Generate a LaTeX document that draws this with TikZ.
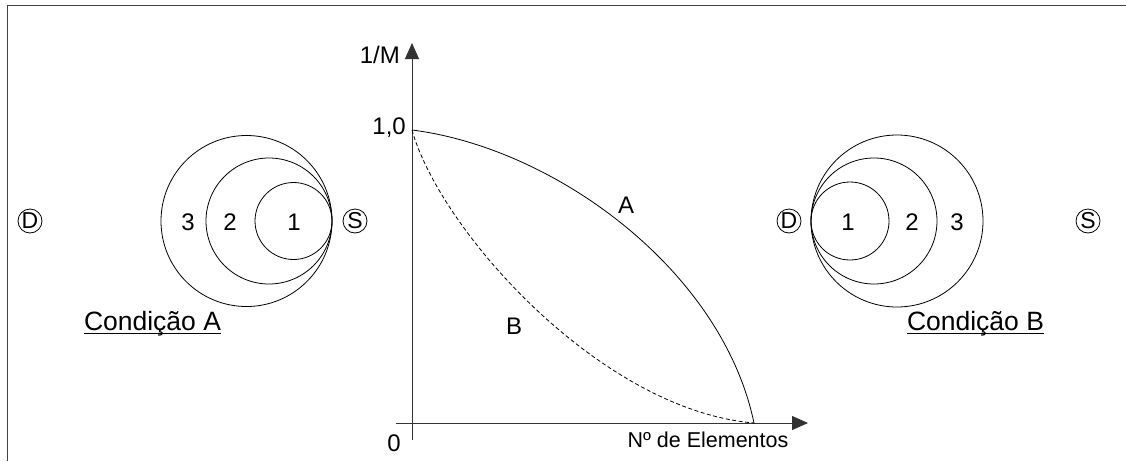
\documentclass[tikz,border=0pt]{standalone}
\usepackage{fontspec}
\setmainfont{Liberation Sans}
\usetikzlibrary{arrows.meta}
\begin{document}
\begin{tikzpicture}[x=1pt,y=-1pt,
  thinline/.style={line width=0.8pt,black},
  axisline/.style={line width=1pt,black!80,-{Triangle[length=16pt,width=14pt]}},
  lbl/.style={font=\fontsize{24}{26}\selectfont,inner sep=0pt},
  cond/.style={font=\fontsize{26.5}{28}\selectfont,inner sep=0pt,anchor=base},
  term/.style={circle,draw,line width=0.8pt,minimum size=24pt,inner sep=0pt,font=\fontsize{23}{24}\selectfont}]
\useasboundingbox (0,0) rectangle (1126,461);
% frame
\draw[line width=1pt,black!75] (1126,5) -- (7,5) -- (7,461);
% left condition A
\draw[thinline] (293.5,221) circle (38.5);
\draw[thinline] (269,221) circle (63);
\draw[thinline] (246.5,221) circle (85.5);
\node[lbl] (a1) at (294,222) {1};
\node[lbl] (a2) at (230,222) {2};
\node[lbl] (a3) at (188,222) {3};
\node[term] (dA) at (30,221) {D};
\node[term] (sA) at (355,221) {S};
\node[cond] (condA) at (152.5,330) {Condição A};
\draw[line width=0.9pt] ([yshift=-3.5pt]condA.base west) -- ([yshift=-3.5pt]condA.base east);
% right condition B
\draw[thinline] (850,221) circle (39);
\draw[thinline] (874,221) circle (63);
\draw[thinline] (897,221) circle (86);
\node[lbl] (b1) at (848,222) {1};
\node[lbl] (b2) at (912,222) {2};
\node[lbl] (b3) at (957,222) {3};
\node[term] (dB) at (789,221) {D};
\node[term] (sB) at (1088,221) {S};
\node[cond] (condB) at (975.5,330) {Condição B};
\draw[line width=0.9pt] ([yshift=-3.5pt]condB.base west) -- ([yshift=-3.5pt]condB.base east);
% axes
\coordinate (ybot) at (412,440);
\coordinate (ytop) at (412,43);
\coordinate (xleft) at (396,423);
\coordinate (xright) at (808,423);
\draw[axisline] (ybot) -- (ytop);
\draw[axisline] (xleft) -- (xright);
\node[lbl,anchor=east] (ym) at (400,55) {1/M};
\node[lbl,anchor=east] (one) at (406,128) {1,0};
\node[lbl] (zero) at (394,443) {0};
\node[font=\fontsize{21.5}{23}\selectfont,inner sep=0pt] (nel) at (708,440) {Nº de Elementos};
% curves
\coordinate (p0) at (412,130);
\coordinate (p1) at (754,423);
\draw[line width=0.8pt] (p0) .. controls (555,148) and (722,270) .. (p1);
\draw[line width=0.8pt,dashed,dash pattern=on 4pt off 2.5pt] (p0) .. controls (440,230) and (600,410) .. (p1);
\node[lbl] (la) at (626,205) {A};
\node[lbl] (lb) at (514,326) {B};
\end{tikzpicture}
\end{document}
